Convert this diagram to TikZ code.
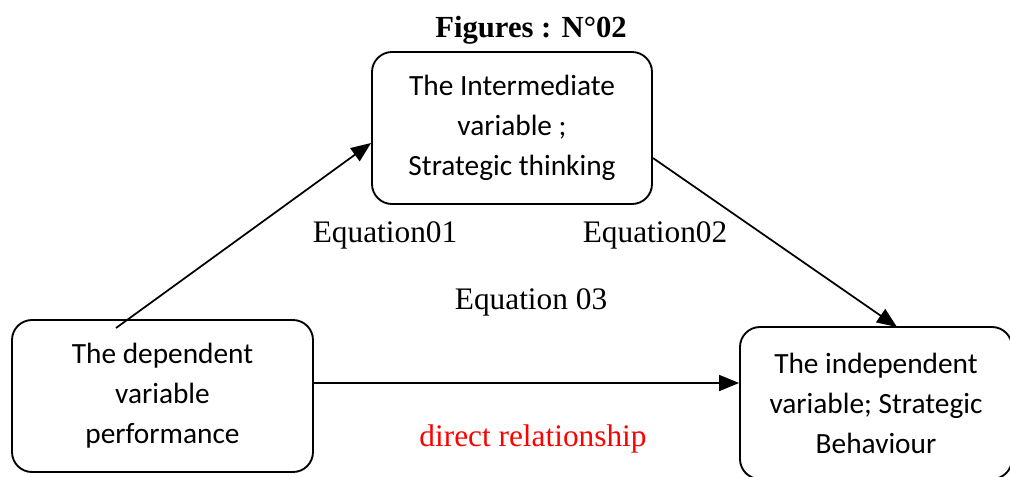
\documentclass[tikz,border=0pt]{standalone}
\usepackage{fontspec}
\setmainfont{Liberation Serif}
\newfontfamily\boxfont{Carlito}
\usetikzlibrary{arrows.meta}
\begin{document}
\begin{tikzpicture}
[x=0.75pt,y=-0.75pt,%
  boxDecorate/.style={shape=rectangle,draw,line width=1.4pt,rounded corners=15pt,
    minimum height=114pt,align=center,inner sep=0pt,
    font=\boxfont\fontsize{22}{30}\selectfont},%
  arrowLine/.style={line width=1.3pt,-{Triangle[length=15pt,width=12pt]}},%
  labelText/.style={anchor=base,inner sep=0pt,font=\fontsize{23.5}{28}\selectfont}]
\useasboundingbox (0,0) rectangle (1010,476);
%% boxes
\foreach \nodename/\x/\y/\w/\txt in {%
  inter/512/128/210/{The Intermediate\\variable ;\\Strategic thinking},
  dep/162.5/396/225.75/{The dependent\\variable\\performance},
  indep/876/403/204/{The independent\\variable; Strategic\\Behaviour}}
{
  \node (\nodename) at (\x,\y) [boxDecorate,minimum width=\w pt] {\txt};
}
%% free end of the first arrow
\coordinate (start) at (116,328);
%% arrows
\draw[arrowLine] (start) -- (inter.west |- 0,143);
\draw[arrowLine] (inter.east |- 0,158) -- (897,327);
\draw[arrowLine] (dep.east |- 0,383) -- (indep.west |- 0,383);
%% labels
\node (title) at (531,37) [labelText,font=\bfseries\fontsize{23}{28}\selectfont] {Figures : N°02};
\node (eq1) at (385,242) [labelText] {Equation01};
\node (eq2) at (655,242) [labelText] {Equation02};
\node (eq3) at (531,309) [labelText] {Equation 03};
\node (direct) at (533,446) [labelText,text=red] {direct relationship};
\end{tikzpicture}
\end{document}
